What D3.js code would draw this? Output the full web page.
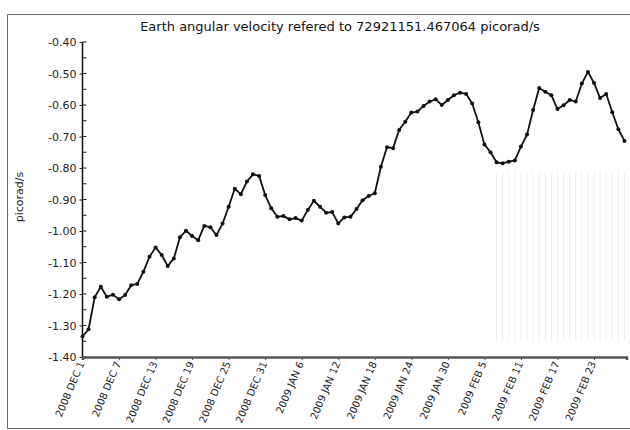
<!DOCTYPE html>
<html>
<head>
<meta charset="utf-8">
<script src="https://cdn.jsdelivr.net/npm/d3@7"></script>
<style>
  body { margin: 0; background: #fff; overflow: hidden; }
  svg { display: block; }
  text { font-family: "DejaVu Sans", sans-serif; }
</style>
</head>
<body>
<svg width="630" height="430"></svg>
<script>
// daily values, 2008 DEC 1 .. 2009 FEB 28
const startDate = '2008-12-01';
const values = [
  -1.335, -1.312, -1.210, -1.177, -1.209, -1.202, -1.217, -1.203, -1.172, -1.168,
  -1.129, -1.082, -1.052, -1.076, -1.111, -1.087, -1.020, -0.999, -1.016, -1.029,
  -0.984, -0.988, -1.013, -0.976, -0.923, -0.866, -0.883, -0.843, -0.820, -0.825,
  -0.886, -0.928, -0.955, -0.952, -0.963, -0.959, -0.967, -0.933, -0.904, -0.923,
  -0.942, -0.940, -0.976, -0.957, -0.955, -0.930, -0.902, -0.889, -0.880, -0.796,
  -0.734, -0.737, -0.679, -0.653, -0.624, -0.621, -0.603, -0.589, -0.582, -0.600,
  -0.584, -0.569, -0.561, -0.565, -0.595, -0.655, -0.725, -0.750, -0.782, -0.785,
  -0.780, -0.776, -0.732, -0.694, -0.616, -0.546, -0.558, -0.569, -0.613, -0.601,
  -0.584, -0.589, -0.532, -0.495, -0.530, -0.578, -0.565, -0.623, -0.677, -0.714
];
const yTicks = [-0.40, -0.50, -0.60, -0.70, -0.80, -0.90, -1.00, -1.10, -1.20, -1.30, -1.40];
const xTickDates = [
  '2008-12-01', '2008-12-07', '2008-12-13', '2008-12-19', '2008-12-25', '2008-12-31',
  '2009-01-06', '2009-01-12', '2009-01-18', '2009-01-24', '2009-01-30',
  '2009-02-05', '2009-02-11', '2009-02-17', '2009-02-23'
];
const stripesFrom = '2009-02-07';
const title = 'Earth angular velocity refered to 72921151.467064 picorad/s';
const yAxisLabel = 'picorad/s';

const svg = d3.select('svg');
const margin = { top: 42, left: 82.5 };
const innerWidth = 544;
const innerHeight = 315;

const parse = d3.utcParse('%Y-%m-%d');
const start = parse(startDate);
const data = values.map((v, i) => ({ date: d3.utcDay.offset(start, i), value: v }));

const xScale = d3.scaleUtc()
  .domain([start, d3.utcHour.offset(d3.utcDay.offset(start, 89), 8)])
  .range([0, innerWidth]);

const yScale = d3.scaleLinear()
  .domain([-1.40, -0.40])
  .range([innerHeight, 0]);

// outer frame (left, top and bottom edges only)
svg.append('path')
  .attr('d', 'M630,14.5H7.5V428.5H630')
  .attr('fill', 'none')
  .attr('stroke', '#666');

svg.append('text')
  .attr('x', 340).attr('y', 31)
  .attr('text-anchor', 'middle')
  .attr('font-size', 13)
  .attr('fill', '#111')
  .text(title);

const g = svg.append('g')
  .attr('transform', `translate(${margin.left}, ${margin.top})`);

// faint daily stripes at the end of the series
const stripeDays = data.filter(d => d.date >= parse(stripesFrom));
g.selectAll('.stripe').data(stripeDays)
  .enter().append('line')
    .attr('class', 'stripe')
    .attr('x1', d => xScale(d.date)).attr('x2', d => xScale(d.date))
    .attr('y1', 130).attr('y2', innerHeight - 16)
    .attr('stroke', '#efefef')
    .attr('stroke-width', 1);

// y axis
const minorTicks = d3.range(-1.40, -0.399, 0.05);
g.selectAll('.minor').data(minorTicks)
  .enter().append('line')
    .attr('x1', 0).attr('x2', 4)
    .attr('y1', d => yScale(d)).attr('y2', d => yScale(d))
    .attr('stroke', '#222');

const yAxis = d3.axisLeft(yScale)
  .tickValues(yTicks)
  .tickFormat(d3.format('.2f'))
  .tickSize(3)
  .tickPadding(3);

const yAxisG = g.append('g').call(yAxis);
yAxisG.select('.domain').remove();
yAxisG.selectAll('.tick text')
  .attr('font-size', 11)
  .attr('font-family', '"DejaVu Sans", sans-serif')
  .attr('fill', '#222')
  .text(d => d3.format('.2f')(d).replace('−', '-'));
yAxisG.selectAll('.tick line').attr('stroke', '#222');

g.append('line')
  .attr('x1', 0).attr('x2', 0)
  .attr('y1', 0).attr('y2', innerHeight)
  .attr('stroke', '#111').attr('stroke-width', 1.5);

svg.append('g')
  .attr('transform', `translate(23, ${margin.top + 155}) rotate(-90)`)
  .append('text')
    .attr('text-anchor', 'middle')
    .attr('font-size', 11)
    .attr('fill', '#222')
    .text(yAxisLabel);

// x axis (ticks from d3, rotated labels drawn in their own groups)
const monthFmt = d3.utcFormat('%b');
const fmtDate = d => `${d.getUTCFullYear()} ${monthFmt(d).toUpperCase()} ${d.getUTCDate()}`;
const tickDates = xTickDates.map(parse);

const xAxis = d3.axisBottom(xScale)
  .tickValues(tickDates)
  .tickFormat('')
  .tickSize(3);

const xAxisG = g.append('g')
  .attr('transform', `translate(0, ${innerHeight})`)
  .call(xAxis);
xAxisG.select('.domain')
  .attr('stroke', '#555').attr('stroke-width', 2.5);
xAxisG.selectAll('.tick line').attr('stroke', '#555');

xAxisG.selectAll('.xlabel').data(tickDates)
  .enter().append('g')
    .attr('class', 'xlabel')
    .attr('transform', d => `translate(${xScale(d) - 1}, 5) rotate(-67)`)
  .append('text')
    .attr('font-size', 10)
    .attr('fill', '#222')
    .attr('text-anchor', 'end')
    .attr('dy', '0.35em')
    .text(fmtDate);

// series
const line = d3.line()
  .x(d => xScale(d.date))
  .y(d => yScale(d.value));

g.append('path')
  .datum(data)
  .attr('fill', 'none')
  .attr('stroke', '#111')
  .attr('stroke-width', 1.8)
  .attr('stroke-linejoin', 'round')
  .attr('d', line);

g.selectAll('.pt').data(data)
  .enter().append('circle')
    .attr('class', 'pt')
    .attr('cx', d => xScale(d.date))
    .attr('cy', d => yScale(d.value))
    .attr('r', 2)
    .attr('fill', '#111');
</script>
</body>
</html>
